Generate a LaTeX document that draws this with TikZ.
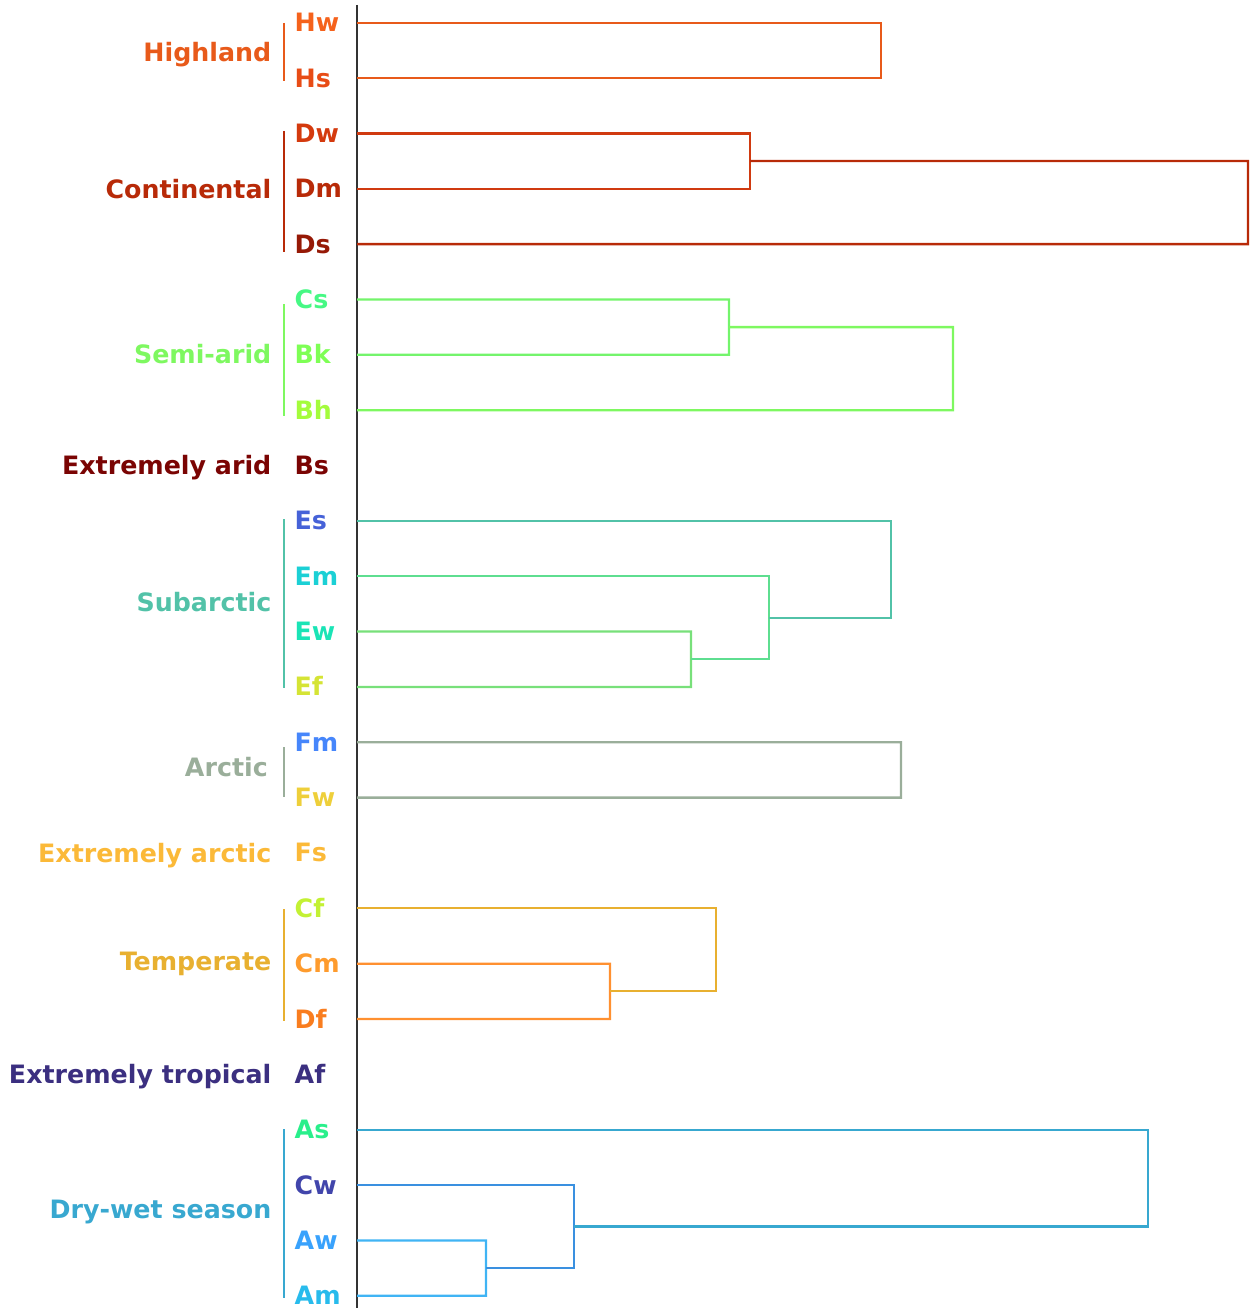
\documentclass[tikz,border=0pt]{standalone}
\usepackage{fontspec}
\setmainfont{DejaVu Sans}
\begin{document}
\begin{tikzpicture}[x=1pt,y=-1pt,
  leaf/.style={anchor=base west,inner sep=0pt,font=\fontsize{25.3}{30}\selectfont\bfseries},
  grp/.style={anchor=base east,inner sep=0pt,font=\fontsize{25.3}{30}\selectfont\bfseries},
  link/.style={line width=2.3pt,line join=miter},
  brk/.style={line width=2.3pt}]
\definecolor{cHw}{HTML}{F5621C}\definecolor{cHs}{HTML}{E84C16}
\definecolor{cDw}{HTML}{D43A0E}\definecolor{cDm}{HTML}{B82A08}\definecolor{cDs}{HTML}{961906}
\definecolor{cCs}{HTML}{46F884}\definecolor{cBk}{HTML}{7EFF55}\definecolor{cBh}{HTML}{A4FC3C}
\definecolor{cBs}{HTML}{7A0403}
\definecolor{cEs}{HTML}{4662D8}\definecolor{cEm}{HTML}{1BD0D5}\definecolor{cEw}{HTML}{1AE4B6}\definecolor{cEf}{HTML}{D5E435}
\definecolor{cFm}{HTML}{4686FB}\definecolor{cFw}{HTML}{EECF3A}\definecolor{cFs}{HTML}{FBB938}
\definecolor{cCf}{HTML}{C3F134}\definecolor{cCm}{HTML}{FE9B2D}\definecolor{cDf}{HTML}{F97D1F}
\definecolor{cAf}{HTML}{3B2F80}
\definecolor{cAs}{HTML}{29EF8B}\definecolor{cCw}{HTML}{4145AB}\definecolor{cAw}{HTML}{39A2FC}\definecolor{cAm}{HTML}{28BBEC}
% group colours
\definecolor{gH}{HTML}{E85A1A}\definecolor{gD}{HTML}{B82A08}\definecolor{gB}{HTML}{7EF860}
\definecolor{gE}{HTML}{52C2A8}\definecolor{gF}{HTML}{9AAE9A}\definecolor{gC}{HTML}{E8B030}
\definecolor{gA}{HTML}{38A8D0}
% link colours
\definecolor{lD}{HTML}{D03A10}\definecolor{lB}{HTML}{74F46C}
\definecolor{lEw}{HTML}{78E07A}\definecolor{lEm}{HTML}{5EDE90}
\definecolor{lC}{HTML}{FF9030}\definecolor{lAw}{HTML}{40B4F4}\definecolor{lCw}{HTML}{3A90E0}
\useasboundingbox (0,0) rectangle (1250,1308);
% axis
\coordinate (axtop) at (357,5);
\coordinate (axbot) at (357,1308);
\draw[line width=1.5pt,color=black!80] (axtop) -- (axbot);
% leaf labels
\foreach \n/\i in {Hw/0,Hs/1,Dw/2,Dm/3,Ds/4,Cs/5,Bk/6,Bh/7,Bs/8,Es/9,Em/10,Ew/11,Ef/12,Fm/13,Fw/14,Fs/15,Cf/16,Cm/17,Df/18,Af/19,As/20,Cw/21,Aw/22,Am/23}{
  \pgfmathsetmacro{\yy}{22.7+55.35*\i}
  \node[leaf,text=c\n] (\n) at (294.5,\yy+9) {\n};
  \coordinate (\n-s) at (357,\yy);
}
% group labels
\node[grp,text=gH] (gHighland) at (271.5,52.5+9) {Highland};
\node[grp,text=gD] (gCont) at (271.5,189.5+9) {Continental};
\node[grp,text=gB] (gSemi) at (271.5,354.8+9) {Semi-arid};
\node[grp,text=cBs] (gXarid) at (271.5,465.5+9) {Extremely arid};
\node[grp,text=gE] (gSub) at (271.5,602+9) {Subarctic};
\node[grp,text=gF] (gArc) at (268,767.5+9) {Arctic};
\node[grp,text=cFs] (gXarc) at (271.5,853+9) {Extremely arctic};
\node[grp,text=gC] (gTemp) at (271.5,961.8+9) {Temperate};
\node[grp,text=cAf] (gXtrop) at (271.5,1074.35+9) {Extremely tropical};
\node[grp,text=gA] (gDry) at (271.5,1209+9) {Dry-wet season};
% brackets
\foreach \c/\a/\b in {gH/23/81,gD/131/252,gB/304/416,gE/519/688,gF/747/797,gC/909/1021,gA/1129/1298}{
  \draw[brk,color=\c] (284,\a) -- (284,\b);
}
% dendrogram
% Highland
\draw[link,gH] (Hw-s) -| (881,78.05) -- (Hs-s);
% Continental
\coordinate (jD1) at (750,161.075);
\draw[link,lD] (Dw-s) -| (750,188.75) -- (Dm-s);
\draw[link,gD] (jD1) -| (1248,244.1) -- (Ds-s);
% Semi-arid
\coordinate (jB1) at (729,327.125);
\draw[link,lB] (Cs-s) -| (729,354.8) -- (Bk-s);
\draw[link,gB] (jB1) -| (953,410.15) -- (Bh-s);
% Subarctic
\coordinate (jE1) at (691,659.225);
\coordinate (jE2) at (769,617.7);
\draw[link,lEw] (Ew-s) -| (691,686.9) -- (Ef-s);
\draw[link,lEm] (Em-s) -| (769,659.225) -- (jE1);
\draw[link,gE] (Es-s) -| (891,617.7) -- (jE2);
% Arctic
\draw[link,gF] (Fm-s) -| (901,797.6) -- (Fw-s);
% Temperate
\coordinate (jC1) at (610,991.325);
\draw[link,lC] (Cm-s) -| (610,1019) -- (Df-s);
\draw[link,gC] (Cf-s) -| (716,991.325) -- (jC1);
% Dry-wet season
\coordinate (jA1) at (486,1268.075);
\coordinate (jA2) at (574,1226.6);
\draw[link,lAw] (Aw-s) -| (486,1295.75) -- (Am-s);
\draw[link,lCw] (Cw-s) -| (574,1268.075) -- (jA1);
\draw[link,gA] (As-s) -| (1148,1226.6) -- (jA2);
\end{tikzpicture}
\end{document}
